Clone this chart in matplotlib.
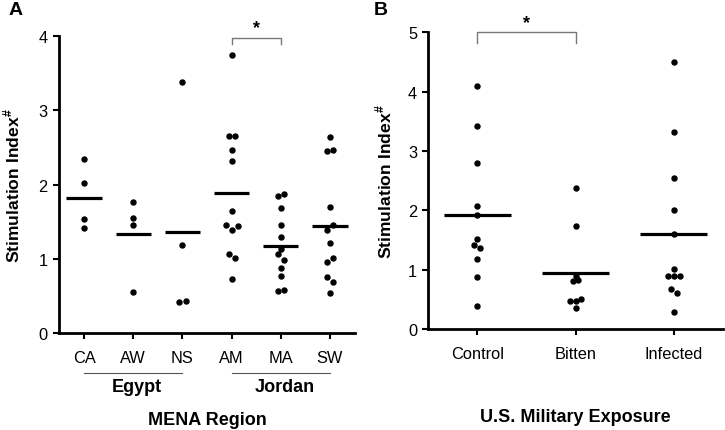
import numpy as np
import matplotlib.pyplot as plt

plt.rcParams['font.family'] = ['Liberation Sans', 'DejaVu Sans']
plt.rcParams['mathtext.fontset'] = 'custom'
plt.rcParams['mathtext.rm'] = 'Liberation Sans:bold'
plt.rcParams['mathtext.bf'] = 'Liberation Sans:bold'

# Panel A - MENA region
cats_a = ["CA", "AW", "NS", "AM", "MA", "SW"]
vals_a = [
    [2.34, 2.02, 1.53, 1.41],
    [1.77, 1.55, 1.45, 0.55],
    [3.38, 1.19, 0.42, 0.43],
    [3.75, 2.65, 2.65, 2.46, 2.32, 1.65, 1.46, 1.39, 1.44, 1.06, 1.01, 0.73],
    [1.84, 1.87, 1.68, 1.46, 1.30, 1.13, 1.06, 0.99, 0.87, 0.77, 0.56, 0.58],
    [2.64, 2.45, 2.47, 1.70, 1.46, 1.39, 1.21, 1.01, 0.96, 0.76, 0.69, 0.54],
]
# horizontal jitter (in category units) used for overlapping dots
jit_a = [
    [0, 0, 0, 0],
    [0, 0, 0, 0],
    [0, 0, -0.07, 0.07],
    [0, -0.06, 0.06, 0, 0, 0, -0.12, 0, 0.12, -0.06, 0.06, 0],
    [-0.06, 0.06, 0, 0, 0, 0, -0.06, 0.06, 0, 0, -0.06, 0.06],
    [0, -0.06, 0.06, 0, 0.06, -0.06, 0, 0.06, -0.06, -0.06, 0.06, 0],
]
groups_a = ["Egypt", "Jordan"]

# Panel B - U.S. military exposure
cats_b = ["Control", "Bitten", "Infected"]
vals_b = [
    [4.10, 3.42, 2.80, 2.07, 1.92, 1.52, 1.42, 1.36, 1.18, 0.88, 0.39],
    [2.37, 1.74, 0.90, 0.81, 0.83, 0.47, 0.47, 0.51, 0.35],
    [4.50, 3.32, 2.54, 2.01, 1.60, 1.02, 0.90, 0.90, 0.90, 0.68, 0.60, 0.29],
]
jit_b = [
    [0, 0, 0, 0, 0, 0, -0.03, 0.03, 0, 0, 0],
    [0, 0, 0, -0.03, 0.03, -0.06, 0, 0.06, 0],
    [0, 0, 0, 0, 0, 0, -0.06, 0, 0.06, -0.03, 0.03, 0],
]

fig = plt.figure(figsize=(7.25, 4.31), dpi=100)
axA = fig.add_axes([0.0807, 0.225, 0.409, 0.689])
axB = fig.add_axes([0.5908, 0.2343, 0.406, 0.688])


def style(ax):
    for s in ["top", "right"]:
        ax.spines[s].set_visible(False)
    for s in ["left", "bottom"]:
        ax.spines[s].set_linewidth(2)
    ax.tick_params(direction="out", length=4.5, width=1.5, labelsize=11.8)


def scatter_panel(ax, vals, jit, half):
    for i, (v, j) in enumerate(zip(vals, jit)):
        ax.plot(np.array(j) + i, v, "o", color="black", markersize=3.6, clip_on=False)
        m = np.mean(v)
        ax.plot([i - half, i + half], [m, m], color="black", lw=2.3, solid_capstyle="butt")


ylab = r"Stimulation Index$^{\#}$"

# ---- A
scatter_panel(axA, vals_a, jit_a, 0.36)
style(axA)
axA.set_xlim(-0.52, 5.51)
axA.set_ylim(0, 4)
axA.set_yticks([0, 1, 2, 3, 4])
axA.set_xticks(range(len(cats_a)))
axA.set_xticklabels(cats_a)
axA.tick_params(axis="x", pad=8)
axA.set_ylabel(ylab, fontsize=12.6, fontweight="bold", labelpad=11)
# group lines
trA = axA.get_xaxis_transform()
for k, g in enumerate(groups_a):
    x0, x1 = 3 * k, 3 * k + 2
    axA.plot([x0, x1], [-0.133, -0.133], color="#555555", lw=0.8, transform=trA, clip_on=False)
    axA.text(x0 + 1.08, -0.181, g, transform=trA, ha="center", va="center",
             fontsize=13, fontweight="bold")
axA.text(2.5, -0.292, "MENA Region", transform=trA, ha="center", va="center",
         fontsize=13, fontweight="bold")
# significance bracket
axA.plot([3, 3, 4, 4], [3.89, 3.97, 3.97, 3.89], color="#777777", lw=1, clip_on=False)
axA.text(3.5, 4.0, "*", ha="center", va="bottom", fontsize=13, fontweight="bold", clip_on=False)

# ---- B
scatter_panel(axB, vals_b, jit_b, 0.345)
style(axB)
axB.set_xlim(-0.5, 2.5)
axB.set_ylim(0, 5)
axB.set_yticks([0, 1, 2, 3, 4, 5])
axB.set_xticks(range(len(cats_b)))
axB.set_xticklabels(cats_b)
axB.tick_params(axis="x", pad=8)
axB.set_ylabel(ylab, fontsize=12.6, fontweight="bold", labelpad=10)
trB = axB.get_xaxis_transform()
axB.text(1, -0.295, "U.S. Military Exposure", transform=trB, ha="center", va="center",
         fontsize=13, fontweight="bold")
axB.plot([0, 0, 1, 1], [4.83, 5.0, 5.0, 4.83], color="#777777", lw=1, clip_on=False)
axB.text(0.5, 5.03, "*", ha="center", va="bottom", fontsize=13, fontweight="bold", clip_on=False)

fig.text(0.012, 0.975, "A", fontsize=14, fontweight="bold", va="center")
fig.text(0.515, 0.975, "B", fontsize=14, fontweight="bold", va="center")

fig.savefig("out.png", dpi=100)
